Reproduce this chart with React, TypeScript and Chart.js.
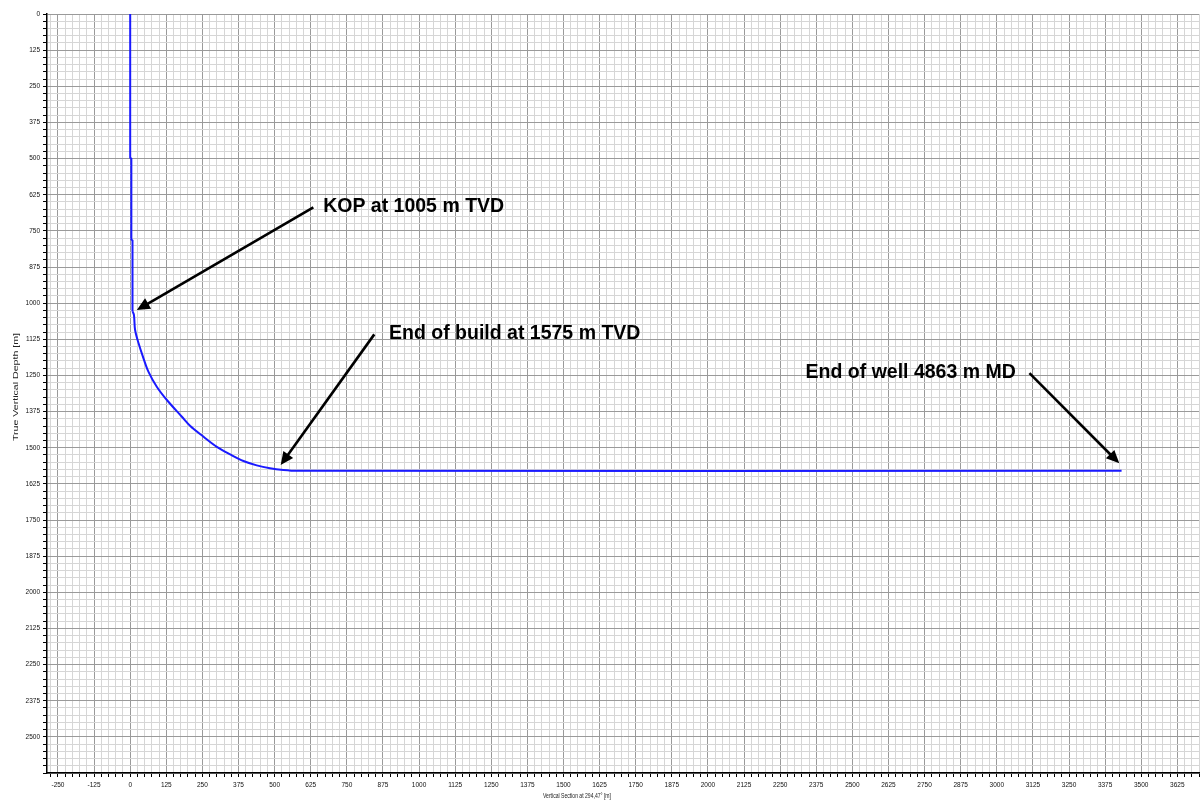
import React, { useEffect, useRef } from 'react';
import { Chart, registerables } from 'chart.js';

Chart.register(...registerables);

// Well path: vertical section [m] and true vertical depth [m]
const wellVS = [0, 0, 4, 4, 8, 8, 13, 17, 29, 44, 63, 92, 127, 179, 208, 254, 300, 346, 392, 438, 484, 530, 577, 3432];
const wellTVD = [0, 497, 500, 780, 783, 1028, 1041, 1093, 1139, 1185, 1237, 1289, 1335, 1393, 1425, 1462, 1497, 1523, 1546, 1561, 1571, 1577, 1580, 1580];
// index where the build section (curved part) starts
const buildStart = 5;

// Axis ranges and tick steps
const xRange = [-288, 3700];
const yRange = [0, 2625];
const minorStep = 25;
const majorStep = 125;

const xTitle = 'Vertical Section at 294,47° [m]';
const yTitle = 'True Vertical Depth [m]';

// Annotations (data coordinates)
const noteTexts = ['KOP at 1005 m TVD', 'End of build at 1575 m TVD', 'End of well 4863 m MD'];
const noteTextVS = [668, 896, 2338];
const noteTextTVD = [685, 1124, 1259];
const arrowTailVS = [634, 845, 3113];
const arrowTailTVD = [669, 1108, 1242];
const arrowTipVS = [23, 521, 3424];
const arrowTipTVD = [1024, 1560, 1554];

const annotationPlugin = {
  id: 'wellNotes',
  afterDatasetsDraw(chart: any) {
    const { ctx, scales } = chart;
    const xs = scales.x;
    const ys = scales.y;
    ctx.save();
    for (let i = 0; i < noteTexts.length; i++) {
      const x1 = xs.getPixelForValue(arrowTailVS[i]);
      const y1 = ys.getPixelForValue(arrowTailTVD[i]);
      const x2 = xs.getPixelForValue(arrowTipVS[i]);
      const y2 = ys.getPixelForValue(arrowTipTVD[i]);
      const dx = x2 - x1;
      const dy = y2 - y1;
      const len = Math.sqrt(dx * dx + dy * dy);
      const ux = dx / len;
      const uy = dy / len;
      const headL = 13;
      const headW = 6;
      ctx.strokeStyle = '#000';
      ctx.fillStyle = '#000';
      ctx.lineWidth = 2.6;
      ctx.beginPath();
      ctx.moveTo(x1, y1);
      ctx.lineTo(x2 - ux * headL * 0.8, y2 - uy * headL * 0.8);
      ctx.stroke();
      ctx.beginPath();
      ctx.moveTo(x2, y2);
      ctx.lineTo(x2 - ux * headL - uy * headW, y2 - uy * headL + ux * headW);
      ctx.lineTo(x2 - ux * headL + uy * headW, y2 - uy * headL - ux * headW);
      ctx.closePath();
      ctx.fill();

      ctx.font = "bold 19.5px 'Liberation Sans', Arial, sans-serif";
      ctx.textAlign = 'left';
      ctx.textBaseline = 'alphabetic';
      ctx.fillText(noteTexts[i], xs.getPixelForValue(noteTextVS[i]), ys.getPixelForValue(noteTextTVD[i]));
    }

    // axis titles
    ctx.fillStyle = '#222';
    ctx.textAlign = 'center';
    ctx.textBaseline = 'middle';
    ctx.font = "7px 'Liberation Sans', Arial, sans-serif";
    const wx = ctx.measureText(xTitle).width;
    ctx.save();
    ctx.translate(577, 796);
    ctx.scale(68 / wx, 1);
    ctx.fillText(xTitle, 0, 0);
    ctx.restore();

    ctx.font = "8px 'Liberation Sans', Arial, sans-serif";
    const wy = ctx.measureText(yTitle).width;
    ctx.save();
    ctx.translate(16, 387);
    ctx.rotate(-Math.PI / 2);
    ctx.scale(108 / wy, 1);
    ctx.fillText(yTitle, 0, 0);
    ctx.restore();
    ctx.restore();
  },
};

const isMajor = (v: number) => Math.abs(v % majorStep) < 1e-6;

const gridColor = (c: any) => (c.tick && isMajor(c.tick.value) ? '#9a9a9a' : '#d6d6d6');

export default function App() {
  const canvasRef = useRef<HTMLCanvasElement | null>(null);

  useEffect(() => {
    document.body.style.margin = '0';
    document.body.style.overflow = 'hidden';
    const canvas = canvasRef.current;
    if (!canvas) return;
    const points = wellVS.map((v, i) => ({ x: v, y: wellTVD[i] }));
    const tickFont = { family: "'Liberation Sans', Arial, sans-serif", size: 6.5 };
    const lineStyle = {
      showLine: true,
      borderColor: '#1a1aff',
      backgroundColor: '#1a1aff',
      borderWidth: 2,
      pointRadius: 0,
    };
    const labelCb = (max: number) => (v: any) => {
      const n = Number(v);
      return isMajor(n) && n !== max ? String(n) : '';
    };
    const chart = new Chart(canvas, {
      type: 'scatter',
      data: {
        datasets: [
          { ...lineStyle, data: points.slice(0, buildStart + 1), tension: 0 },
          { ...lineStyle, data: points.slice(buildStart), tension: 0.35 },
        ],
      },
      options: {
        animation: false,
        responsive: false,
        maintainAspectRatio: false,
        layout: { padding: { top: 14, right: 3, left: 0, bottom: 0 } },
        plugins: {
          legend: { display: false },
          tooltip: { enabled: false },
          title: { display: false },
        },
        scales: {
          x: {
            type: 'linear',
            position: 'bottom',
            min: xRange[0],
            max: xRange[1],
            afterFit: (s: any) => {
              s.height = 30;
            },
            ticks: {
              stepSize: minorStep,
              autoSkip: false,
              includeBounds: false,
              maxRotation: 0,
              minRotation: 0,
              padding: 4,
              color: '#111',
              font: tickFont,
              callback: labelCb(xRange[1]),
            },
            grid: {
              color: gridColor,
              lineWidth: 1,
              tickColor: '#000',
              tickLength: 4,
              drawTicks: true,
            },
            border: { display: true, color: '#000', width: 1.5 },
          },
          y: {
            type: 'linear',
            reverse: true,
            min: yRange[0],
            max: yRange[1],
            afterFit: (s: any) => {
              s.width = 47;
            },
            ticks: {
              stepSize: minorStep,
              autoSkip: false,
              includeBounds: false,
              padding: 3,
              color: '#111',
              font: tickFont,
              callback: labelCb(yRange[1]),
            },
            grid: {
              color: gridColor,
              lineWidth: 1,
              tickColor: '#000',
              tickLength: 4,
              drawTicks: true,
            },
            border: { display: true, color: '#000', width: 1.5 },
          },
        },
      },
      plugins: [annotationPlugin],
    } as any);
    return () => {
      chart.destroy();
    };
  }, []);

  return (
    <div style={{ width: 1203, height: 803, background: '#fff' }}>
      <canvas ref={canvasRef} width={1203} height={803} style={{ display: 'block' }} />
    </div>
  );
}
